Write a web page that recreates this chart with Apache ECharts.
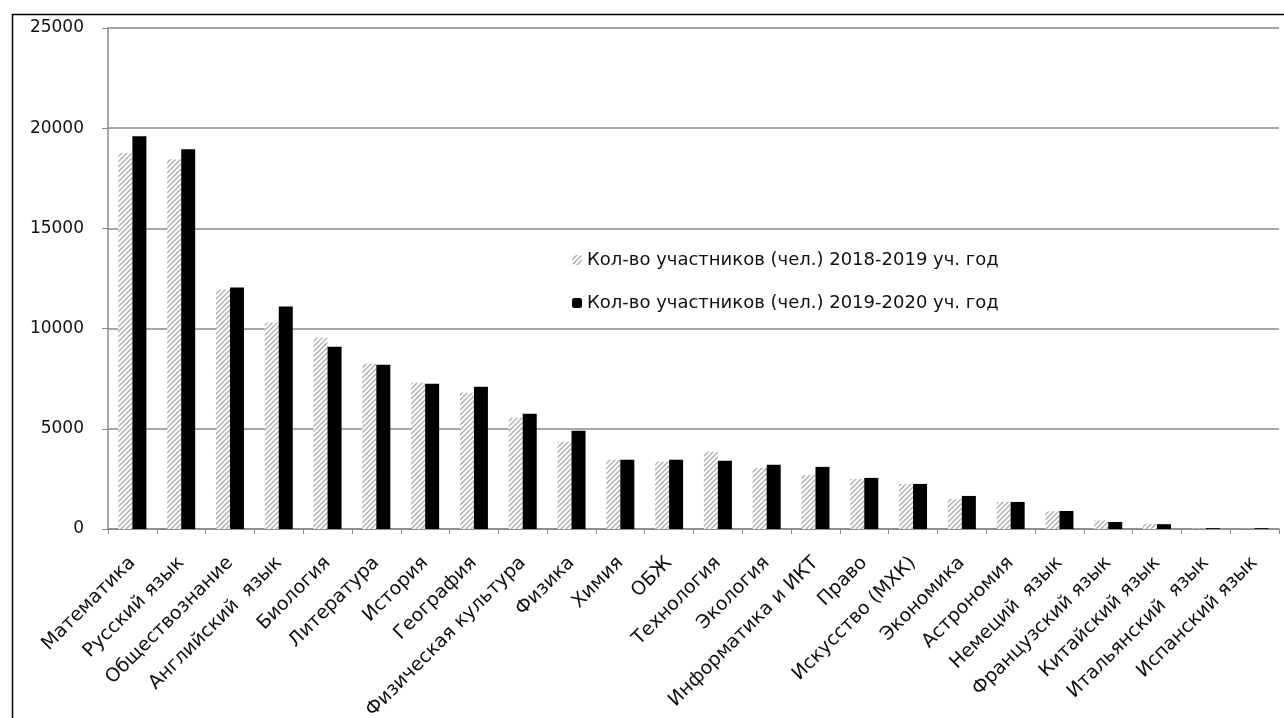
<!DOCTYPE html>
<html><head><meta charset="utf-8">
<script src="https://cdn.jsdelivr.net/npm/echarts@6/dist/echarts.min.js"></script>
<style>html,body{margin:0;padding:0;background:#fff}#c{width:1284px;height:718px}</style>
</head><body><div id="c"></div>
<script>
const categories = ['Математика','Русский язык','Обществознание','Английский  язык','Биология','Литература','История','География','Физическая культура','Физика','Химия','ОБЖ','Технология','Экология','Информатика и ИКТ','Право','Искусство (МХК)','Экономика','Астрономия','Немеций  язык','Французский язык','Китайский язык','Итальянский  язык','Испанский язык'];
const values2018 = [18750,18450,11950,10300,9550,8250,7300,6800,5550,4350,3450,3350,3850,3050,2700,2500,2250,1500,1350,880,430,250,20,10];
const values2019 = [19600,18950,12050,11100,9100,8200,7250,7100,5750,4900,3450,3450,3400,3200,3100,2550,2250,1650,1350,900,350,240,40,40];
const seriesNames = ['Кол-во участников (чел.) 2018-2019 уч. год','Кол-во участников (чел.) 2019-2020 уч. год'];
const yMin = 0, yMax = 25000, yStep = 5000;

const pc = document.createElement('canvas');
pc.width = 5; pc.height = 5;
const g = pc.getContext('2d');
g.fillStyle = '#ffffff'; g.fillRect(0,0,5,5);
g.strokeStyle = '#b0b0b0'; g.lineWidth = 1.5;
g.beginPath();
g.moveTo(-1,6); g.lineTo(6,-1);
g.moveTo(-6,6); g.lineTo(1,-1);
g.moveTo(4,6); g.lineTo(11,-1);
g.stroke();

const FONT = 'DejaVu Sans';
const chart = echarts.init(document.getElementById('c'), null, {renderer:'canvas'});
chart.setOption({
  animation:false,
  backgroundColor:'#fff',
  textStyle:{fontFamily:FONT},
  graphic:[{type:'rect',left:10,top:12,shape:{width:1300,height:720},style:{fill:'none',stroke:'#000',lineWidth:1.5},silent:true}],
  grid:{left:108,right:5,top:28,bottom:189,containLabel:false,outerBoundsMode:'none'},
  legend:{orient:'vertical',left:567,top:246,itemWidth:10,itemHeight:10,itemGap:25,
    textStyle:{fontFamily:FONT,fontSize:18,color:'#111'},
    data:seriesNames},
  xAxis:{type:'category',data:categories,boundaryGap:true,
    axisLine:{lineStyle:{color:'#888',width:1.5}},
    axisTick:{show:true,alignWithLabel:false,length:5,inside:false,lineStyle:{color:'#888'}},
    axisLabel:{rotate:45,interval:0,margin:31,fontFamily:FONT,fontSize:19,color:'#111'}},
  yAxis:{type:'value',min:yMin,max:yMax,interval:yStep,
    axisLine:{show:true,lineStyle:{color:'#888',width:1.5}},
    axisTick:{show:true,length:6,lineStyle:{color:'#888'}},
    splitLine:{lineStyle:{color:'#8a8a8a',width:1.5}},
    axisLabel:{margin:24,fontFamily:FONT,fontSize:17,color:'#111',formatter:function(v){return String(v);}}},
  series:[
    {name:seriesNames[0],type:'bar',data:values2018,barWidth:14,barGap:'0%',
     itemStyle:{color:{image:pc,repeat:'repeat'}}},
    {name:seriesNames[1],type:'bar',data:values2019,barWidth:14,barGap:'0%',
     itemStyle:{color:'#000'}}
  ]
});
</script></body></html>
